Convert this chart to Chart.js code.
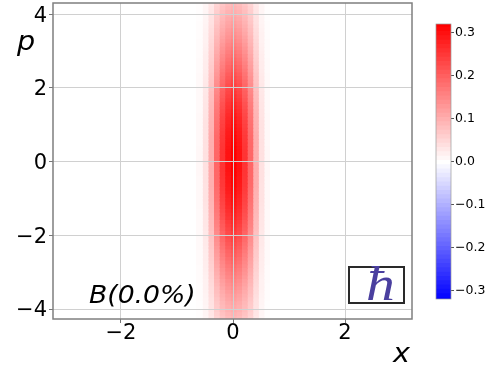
<!DOCTYPE html>
<html lang="en">
<head>
  <meta charset="UTF-8" />
  <title>B(0.0%)</title>
  <script src="https://cdn.jsdelivr.net/npm/chart.js"></script>
  <style>
    body { margin: 0; background: #fff; width: 491px; height: 371px; overflow: hidden; position: relative; }
    canvas { position: absolute; top: 0; }
    #main { left: 0; }
    #cbar { left: 425px; }
    .lbl { position: absolute; font-family: "DejaVu Sans", sans-serif; font-style: italic; color: #000; white-space: nowrap; transform-origin: left top; }
    #plabel { left: 17px; top: 26px; font-size: 26px; transform: scaleX(1.1); }
    #blabel { left: 89px; top: 281px; font-size: 24px; transform: scaleX(1.11); }
    #xlabel { left: 393px; top: 338px; font-size: 26px; transform: scaleX(1.1); }
    #hbox { position: absolute; left: 348px; top: 266px; width: 53px; height: 34px; border: 2px solid #2a2a2a; }
    #hbar { position: absolute; left: 16px; top: -8px; font: italic 48px "Liberation Serif", serif; color: #4a3f9f; line-height: 48px; transform: scaleX(1.2); transform-origin: left top; }
  </style>
</head>
<body>
  <canvas id="main" width="491" height="371"></canvas>
  <canvas id="cbar" width="66" height="371"></canvas>
  <div class="lbl" id="plabel">p</div>
  <div class="lbl" id="xlabel">x</div>
  <div class="lbl" id="blabel">B(0.0%)</div>
  <div id="hbox"><div id="hbar">ħ</div></div>

  <script>
    const xTicks = [-2, 0, 2];
    const pTicks = [-4, -2, 0, 2, 4];
    const barTicks = [-0.3, -0.2, -0.1, 0, 0.1, 0.2, 0.3];

    // cell centres of the heat map
    const xCells = [-0.6, -0.5, -0.4, -0.3, -0.2, -0.1, 0, 0.1, 0.2, 0.3, 0.4, 0.5, 0.6];
    const pCells = [
      4.25, 4.15, 4.05, 3.95, 3.85, 3.75, 3.65, 3.55, 3.45, 3.35, 3.25, 3.15, 3.05, 2.95, 2.85, 2.75, 2.65, 2.55, 2.45, 2.35, 2.25, 2.15,
      2.05, 1.95, 1.85, 1.75, 1.65, 1.55, 1.45, 1.35, 1.25, 1.15, 1.05, 0.95, 0.85, 0.75, 0.65, 0.55, 0.45, 0.35, 0.25, 0.15, 0.05,
      -0.05, -0.15, -0.25, -0.35, -0.45, -0.55, -0.65, -0.75, -0.85, -0.95, -1.05, -1.15, -1.25, -1.35, -1.45, -1.55, -1.65, -1.75, -1.85, -1.95,
      -2.05, -2.15, -2.25, -2.35, -2.45, -2.55, -2.65, -2.75, -2.85, -2.95, -3.05, -3.15, -3.25, -3.35, -3.45, -3.55, -3.65, -3.75, -3.85, -3.95, -4.05, -4.15, -4.25
    ];
    // one row per pCells entry, one value per xCells entry
    const cellValues = [
      [.003,.011,.029,.054,.072,.084,.090,.084,.072,.054,.029,.011,.003],
      [.003,.012,.031,.058,.077,.089,.096,.089,.077,.058,.031,.012,.003],
      [.003,.012,.033,.061,.082,.095,.102,.095,.082,.061,.033,.012,.003],
      [.003,.013,.035,.065,.086,.100,.108,.100,.086,.065,.035,.013,.003],
      [.003,.014,.036,.068,.090,.105,.113,.105,.090,.068,.036,.014,.003],
      [.004,.014,.038,.072,.096,.112,.120,.112,.096,.072,.038,.014,.004],
      [.004,.015,.040,.076,.101,.117,.126,.117,.101,.076,.040,.015,.004],
      [.004,.016,.043,.080,.106,.124,.133,.124,.106,.080,.043,.016,.004],
      [.004,.017,.044,.083,.111,.129,.139,.129,.111,.083,.044,.017,.004],
      [.004,.018,.047,.088,.117,.136,.146,.136,.117,.088,.047,.018,.004],
      [.005,.018,.049,.092,.122,.142,.153,.142,.122,.092,.049,.018,.005],
      [.005,.019,.051,.096,.128,.149,.160,.149,.128,.096,.051,.019,.005],
      [.005,.020,.053,.100,.134,.155,.167,.155,.134,.100,.053,.020,.005],
      [.005,.021,.056,.104,.139,.162,.174,.162,.139,.104,.056,.021,.005],
      [.005,.022,.058,.109,.145,.168,.181,.168,.145,.109,.058,.022,.005],
      [.006,.023,.060,.113,.151,.176,.189,.176,.151,.113,.060,.023,.006],
      [.006,.024,.063,.118,.157,.182,.196,.182,.157,.118,.063,.024,.006],
      [.006,.024,.065,.122,.162,.189,.203,.189,.162,.122,.065,.024,.006],
      [.006,.025,.067,.126,.168,.195,.210,.195,.168,.126,.067,.025,.006],
      [.007,.026,.070,.131,.174,.203,.218,.203,.174,.131,.070,.026,.007],
      [.007,.027,.072,.135,.180,.209,.225,.209,.180,.135,.072,.027,.007],
      [.007,.028,.074,.139,.186,.216,.232,.216,.186,.139,.074,.028,.007],
      [.007,.029,.076,.143,.191,.222,.239,.222,.191,.143,.076,.029,.007],
      [.007,.029,.078,.147,.196,.228,.245,.228,.196,.147,.078,.029,.007],
      [.008,.030,.081,.151,.202,.234,.252,.234,.202,.151,.081,.030,.008],
      [.008,.031,.083,.155,.206,.240,.258,.240,.206,.155,.083,.031,.008],
      [.008,.032,.084,.158,.211,.246,.264,.246,.211,.158,.084,.032,.008],
      [.008,.033,.087,.163,.217,.252,.271,.252,.217,.163,.087,.033,.008],
      [.008,.033,.088,.166,.221,.257,.276,.257,.221,.166,.088,.033,.008],
      [.008,.034,.090,.169,.226,.262,.282,.262,.226,.169,.090,.034,.008],
      [.009,.034,.092,.172,.230,.267,.287,.267,.230,.172,.092,.034,.009],
      [.009,.035,.093,.175,.234,.272,.292,.272,.234,.175,.093,.035,.009],
      [.009,.036,.095,.178,.237,.275,.296,.275,.237,.178,.095,.036,.009],
      [.009,.036,.096,.180,.240,.279,.300,.279,.240,.180,.096,.036,.009],
      [.009,.036,.097,.182,.243,.283,.304,.283,.243,.182,.097,.036,.009],
      [.009,.037,.099,.185,.246,.286,.308,.286,.246,.185,.099,.037,.009],
      [.009,.037,.100,.187,.249,.289,.311,.289,.249,.187,.100,.037,.009],
      [.009,.038,.100,.188,.250,.291,.313,.291,.250,.188,.100,.038,.009],
      [.009,.038,.101,.189,.252,.293,.315,.293,.252,.189,.101,.038,.009],
      [.010,.038,.101,.190,.254,.295,.317,.295,.254,.190,.101,.038,.010],
      [.010,.038,.102,.191,.255,.297,.319,.297,.255,.191,.102,.038,.010],
      [.010,.038,.102,.191,.255,.297,.319,.297,.255,.191,.102,.038,.010],
      [.010,.038,.102,.192,.256,.298,.320,.298,.256,.192,.102,.038,.010],
      [.010,.038,.102,.192,.256,.298,.320,.298,.256,.192,.102,.038,.010],
      [.010,.038,.102,.191,.255,.297,.319,.297,.255,.191,.102,.038,.010],
      [.010,.038,.102,.191,.255,.297,.319,.297,.255,.191,.102,.038,.010],
      [.010,.038,.101,.190,.254,.295,.317,.295,.254,.190,.101,.038,.010],
      [.009,.038,.101,.189,.252,.293,.315,.293,.252,.189,.101,.038,.009],
      [.009,.038,.100,.188,.250,.291,.313,.291,.250,.188,.100,.038,.009],
      [.009,.037,.100,.187,.249,.289,.311,.289,.249,.187,.100,.037,.009],
      [.009,.037,.099,.185,.246,.286,.308,.286,.246,.185,.099,.037,.009],
      [.009,.036,.097,.182,.243,.283,.304,.283,.243,.182,.097,.036,.009],
      [.009,.036,.096,.180,.240,.279,.300,.279,.240,.180,.096,.036,.009],
      [.009,.036,.095,.178,.237,.275,.296,.275,.237,.178,.095,.036,.009],
      [.009,.035,.093,.175,.234,.272,.292,.272,.234,.175,.093,.035,.009],
      [.009,.034,.092,.172,.230,.267,.287,.267,.230,.172,.092,.034,.009],
      [.008,.034,.090,.169,.226,.262,.282,.262,.226,.169,.090,.034,.008],
      [.008,.033,.088,.166,.221,.257,.276,.257,.221,.166,.088,.033,.008],
      [.008,.033,.087,.163,.217,.252,.271,.252,.217,.163,.087,.033,.008],
      [.008,.032,.084,.158,.211,.246,.264,.246,.211,.158,.084,.032,.008],
      [.008,.031,.083,.155,.206,.240,.258,.240,.206,.155,.083,.031,.008],
      [.008,.030,.081,.151,.202,.234,.252,.234,.202,.151,.081,.030,.008],
      [.007,.029,.078,.147,.196,.228,.245,.228,.196,.147,.078,.029,.007],
      [.007,.029,.076,.143,.191,.222,.239,.222,.191,.143,.076,.029,.007],
      [.007,.028,.074,.139,.186,.216,.232,.216,.186,.139,.074,.028,.007],
      [.007,.027,.072,.135,.180,.209,.225,.209,.180,.135,.072,.027,.007],
      [.007,.026,.070,.131,.174,.203,.218,.203,.174,.131,.070,.026,.007],
      [.006,.025,.067,.126,.168,.195,.210,.195,.168,.126,.067,.025,.006],
      [.006,.024,.065,.122,.162,.189,.203,.189,.162,.122,.065,.024,.006],
      [.006,.024,.063,.118,.157,.182,.196,.182,.157,.118,.063,.024,.006],
      [.006,.023,.060,.113,.151,.176,.189,.176,.151,.113,.060,.023,.006],
      [.005,.022,.058,.109,.145,.168,.181,.168,.145,.109,.058,.022,.005],
      [.005,.021,.056,.104,.139,.162,.174,.162,.139,.104,.056,.021,.005],
      [.005,.020,.053,.100,.134,.155,.167,.155,.134,.100,.053,.020,.005],
      [.005,.019,.051,.096,.128,.149,.160,.149,.128,.096,.051,.019,.005],
      [.005,.018,.049,.092,.122,.142,.153,.142,.122,.092,.049,.018,.005],
      [.004,.018,.047,.088,.117,.136,.146,.136,.117,.088,.047,.018,.004],
      [.004,.017,.044,.083,.111,.129,.139,.129,.111,.083,.044,.017,.004],
      [.004,.016,.043,.080,.106,.124,.133,.124,.106,.080,.043,.016,.004],
      [.004,.015,.040,.076,.101,.117,.126,.117,.101,.076,.040,.015,.004],
      [.004,.014,.038,.072,.096,.112,.120,.112,.096,.072,.038,.014,.004],
      [.003,.014,.036,.068,.090,.105,.113,.105,.090,.068,.036,.014,.003],
      [.003,.013,.035,.065,.086,.100,.108,.100,.086,.065,.035,.013,.003],
      [.003,.012,.033,.061,.082,.095,.102,.095,.082,.061,.033,.012,.003],
      [.003,.012,.031,.058,.077,.089,.096,.089,.077,.058,.031,.012,.003],
      [.003,.011,.029,.054,.072,.084,.090,.084,.072,.054,.029,.011,.003]
    ];
    const barLevels = [
      -.32, -.31, -.30, -.29, -.28, -.27, -.26, -.25, -.24, -.23, -.22, -.21, -.20, -.19, -.18, -.17,
      -.16, -.15, -.14, -.13, -.12, -.11, -.10, -.09, -.08, -.07, -.06, -.05, -.04, -.03, -.02, -.01, 0,
      .01, .02, .03, .04, .05, .06, .07, .08, .09, .10, .11, .12, .13, .14, .15, .16,
      .17, .18, .19, .20, .21, .22, .23, .24, .25, .26, .27, .28, .29, .30, .31, .32
    ];
    const vMax = 0.32;
    const pStep = 0.1;
    const levelStep = 0.01;

    // matplotlib bwr
    function bwr(v) {
      const t = Math.min(Math.abs(v) / vMax, 1);
      const c = Math.round(255 * (1 - t));
      return v >= 0 ? `rgb(255,${c},${c})` : `rgb(${c},${c},255)`;
    }

    function minusLabel(v) {
      return String(v).replace('-', '\u2212');
    }

    const frame = {
      id: 'frame',
      afterDraw(chart, args, opts) {
        const { ctx, chartArea: a } = chart;
        ctx.save();
        ctx.strokeStyle = opts.color;
        ctx.lineWidth = opts.width;
        ctx.strokeRect(a.left, a.top, a.right - a.left, a.bottom - a.top);
        ctx.restore();
      }
    };

    const columns = xCells.map((x, i) => ({
      data: pCells.map((p, j) => ({ x: x, y: [p - pStep / 2, p + pStep / 2], v: cellValues[j][i] })),
      backgroundColor: c => bwr(c.raw.v),
      barPercentage: 1,
      categoryPercentage: 1,
      grouped: false,
      inflateAmount: 0.6,
      borderWidth: 0
    }));

    new Chart(document.getElementById('main'), {
      type: 'bar',
      data: { datasets: columns },
      plugins: [frame],
      options: {
        responsive: false,
        animation: false,
        layout: { padding: { top: 3, right: 79, left: 0, bottom: 0 } },
        plugins: {
          legend: { display: false },
          tooltip: { enabled: false },
          frame: { color: '#7f7f7f', width: 1.5 }
        },
        scales: {
          x: {
            type: 'linear',
            offset: false,
            min: -3.214,
            max: 3.196,
            afterBuildTicks: s => { s.ticks = xTicks.map(v => ({ value: v })); },
            afterFit: s => { s.height = 52; s.paddingLeft = 0; s.paddingRight = 0; },
            grid: { offset: false, color: '#d0d0d0', z: 1, tickColor: '#777', tickLength: 4 },
            border: { display: false },
            ticks: {
              color: '#000', padding: -2, maxRotation: 0, autoSkip: false,
              font: { family: 'DejaVu Sans', size: 21 },
              callback: minusLabel
            }
          },
          y: {
            min: -4.27,
            max: 4.3,
            afterBuildTicks: s => { s.ticks = pTicks.map(v => ({ value: v })); },
            afterFit: s => { s.width = 53; s.paddingTop = 0; s.paddingBottom = 0; },
            grid: { color: '#d0d0d0', z: 1, tickColor: '#777', tickLength: 4 },
            border: { display: false },
            ticks: {
              color: '#000', padding: 2, autoSkip: false, labelOffset: 2,
              font: { family: 'DejaVu Sans', size: 21 },
              callback: minusLabel
            }
          }
        }
      }
    });

    new Chart(document.getElementById('cbar'), {
      type: 'bar',
      data: {
        datasets: [{
          data: barLevels.map(v => ({ x: 0, y: [v - levelStep / 2, v + levelStep / 2], v: v })),
          backgroundColor: c => bwr(c.raw.v),
          barThickness: 30,
          grouped: false,
          inflateAmount: 0.6,
          borderWidth: 0
        }]
      },
      plugins: [frame],
      options: {
        responsive: false,
        animation: false,
        layout: { padding: { top: 24, left: 11, right: 0, bottom: 72 } },
        plugins: {
          legend: { display: false },
          tooltip: { enabled: false },
          frame: { color: '#9a9a9a', width: 0.7 }
        },
        scales: {
          x: { type: 'linear', display: false, offset: false, min: -1, max: 1, grid: { offset: false } },
          y: {
            position: 'right',
            min: -0.32,
            max: 0.32,
            afterBuildTicks: s => { s.ticks = barTicks.map(v => ({ value: v })); },
            afterFit: s => { s.width = 40; s.paddingTop = 0; s.paddingBottom = 0; },
            grid: { drawOnChartArea: false, tickColor: '#555', tickLength: 3 },
            border: { display: false },
            ticks: {
              color: '#000', padding: 1, autoSkip: false,
              font: { family: 'DejaVu Sans', size: 12.5 },
              callback: v => minusLabel(v.toFixed(1))
            }
          }
        }
      }
    });
  </script>
</body>
</html>
